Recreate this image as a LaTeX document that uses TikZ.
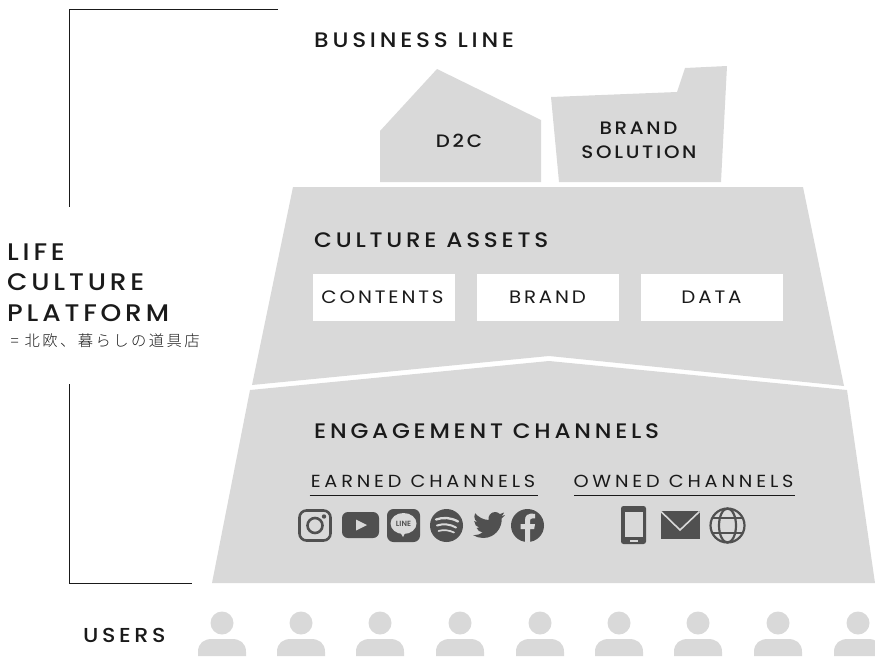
\documentclass[tikz,border=0pt]{standalone}
\usepackage{fontspec}
\setmainfont{Poppins}
\newfontfamily\medf[LetterSpace=18,FakeStretch=1.1]{Poppins Medium}
\newfontfamily\bigf[LetterSpace=16,FakeStretch=1.1]{Poppins Medium}
\newfontfamily\labf[LetterSpace=15,FakeStretch=1.1]{Poppins Medium}
\newfontfamily\regf[LetterSpace=16,FakeStretch=1.1]{Poppins}
\newfontfamily\subf[LetterSpace=22,FakeStretch=1.1]{Poppins}
\newfontfamily\jpf[LetterSpace=16]{Noto Sans CJK JP Light}
\newfontfamily\linef{Poppins SemiBold}
\definecolor{paleg}{HTML}{D9D9D9}
\definecolor{ink}{HTML}{1A1A1A}
\definecolor{iconc}{HTML}{505050}
\tikzset{
  shapefill/.style={fill=paleg,draw=none},
  heading/.style={anchor=base west,inner sep=0pt,text=ink,font=\fontsize{21}{24}\medf},
  usersstyle/.style={anchor=base west,inner sep=0pt,text=ink,font=\fontsize{20.2}{24}\medf},
  label/.style={anchor=base,inner sep=0pt,text=ink,font=\fontsize{18}{22}\labf},
  whitebox/.style={fill=white,draw=none,minimum width=142pt,minimum height=47pt,inner sep=0pt},
  boxtext/.style={anchor=base,inner sep=0pt,text=ink,font=\fontsize{18}{22}\regf},
  sub/.style={anchor=base,inner sep=0pt,text=ink,font=\fontsize{17.5}{22}\subf},
  big/.style={anchor=base west,inner sep=0pt,text=ink,font=\fontsize{24}{28}\bigf},
  rule/.style={draw=ink,line width=0.9pt},
  ic/.style={fill=iconc,draw=none},
}
\newcommand{\person}[1]{%
  \fill[paleg] (#1,623) circle (11.5);
  \fill[paleg] (#1-24,656) -- (#1-24,652) .. controls (#1-24,643) and (#1-18,639) .. (#1-10,639) -- (#1+10,639) .. controls (#1+18,639) and (#1+24,643) .. (#1+24,652) -- (#1+24,656) -- cycle;
}
\begin{document}
\begin{tikzpicture}[x=1pt,y=-1pt]
\useasboundingbox (0,0) rectangle (875,656);
% bracket
\coordinate (bt) at (278,9); \coordinate (bc) at (69,9); \coordinate (bm) at (69,207);
\coordinate (cm) at (69,384); \coordinate (cc) at (69,583); \coordinate (ce) at (192,583);
\draw[rule,line width=0.8pt] (bt) -- (bc) -- (bm);
\draw[rule,line width=0.8pt] (cm) -- (cc) -- (ce);
% shapes
\fill[shapefill] (380,182) -- (380,131) -- (437,69) -- (541,120) -- (541,182) -- cycle;
\fill[shapefill] (551,97) -- (677,92) -- (685,68) -- (727,66) -- (721,182) -- (559,182) -- cycle;
\fill[shapefill] (293,187) -- (803,187) -- (844,386) -- (549,356) -- (252,385) -- cycle;
\fill[shapefill] (250,390) -- (549,361) -- (847,390) -- (875,583) -- (212,583) -- cycle;
% titles
\node[heading] (business) at (314,47) {BUSINESS LINE};
\node[label] (d2c) at (459,147) {D2C};
\node[label] (brandsol1) at (638.5,134) {BRAND};
\node[label] (brandsol2) at (639,158) {SOLUTION};
\node[heading] (culture) at (314,247) {CULTURE ASSETS};
\node[whitebox] (contentsbox) at (384,297.5) {};
\node[whitebox] (brandbox) at (548,297.5) {};
\node[whitebox] (databox) at (712,297.5) {};
\node[boxtext] (contents) at (382.5,303) {CONTENTS};
\node[boxtext] (brand) at (547.5,303) {BRAND};
\node[boxtext] (data) at (711.5,303) {DATA};
\node[heading] (engagement) at (314,438) {ENGAGEMENT CHANNELS};
\node[sub] (earned) at (423,487) {EARNED CHANNELS};
\node[sub] (owned) at (683.5,487) {OWNED CHANNELS};
\draw[rule] (309.5,495) -- (538,495);
\draw[rule] (574,495) -- (795,495);
% left
\node[big] (life) at (7,260) {LIFE};
\node[big] (cult) at (7,290) {CULTURE};
\node[big] (plat) at (7,321) {PLATFORM};
\node[anchor=base west,inner sep=0pt,text=ink,font=\fontsize{15.3}{18}\jpf] (jp) at (10.5,346) {= 北欧、暮らしの道具店};
\node[usersstyle] (users) at (83,642) {USERS};
% people
\foreach \px in {222,301,380,460,540,619,698,778,858} {\person{\px}}
% instagram
\draw[iconc,line width=2.6pt,rounded corners=7pt] (299.5,510.5) rectangle (330.5,540.5);
\draw[iconc,line width=2.6pt] (315,525.5) circle (7.5);
\fill[iconc] (324,516.5) circle (2.2);
% youtube
\fill[ic,rounded corners=6pt] (342,512) rectangle (379,538);
\fill[paleg] (356,519.5) -- (367,525) -- (356,530.5) -- cycle;
% line
\fill[ic,rounded corners=6.5pt] (387,509) rectangle (420,542);
\fill[paleg] (403.5,523.5) ellipse (13 and 10.5);
\fill[paleg] (400,532) -- (405.5,532) -- (403,537) -- cycle;
\node[anchor=center,inner sep=0pt,text=iconc,font=\fontsize{7.5}{8}\linef] (lineword) at (403.5,523.5) {LINE};
% spotify
\fill[iconc] (446.5,525.5) circle (16.5);
\draw[paleg,line width=2.3pt,line cap=round] (436,519.5) .. controls (443,517) and (451,517.5) .. (458,521.5);
\draw[paleg,line width=2pt,line cap=round] (437,525.5) .. controls (443,523.5) and (450,524) .. (456,527.5);
\draw[paleg,line width=1.7pt,line cap=round] (438.5,531) .. controls (443,529.5) and (449,530) .. (454,532.5);
% twitter
\begin{scope}[shift={(473,509)},x=1.333pt,y=-1.333pt]
\fill[iconc] (23.95,4.57) .. controls (23.1,4.95) and (22.1,5.22) .. (21.13,5.345)
 .. controls (22.1,4.76) and (22.9,3.82) .. (23.29,2.62)
 .. controls (22.34,3.18) and (21.29,3.58) .. (20.16,3.81)
 .. controls (19.27,2.85) and (18,2.25) .. (16.58,2.25)
 .. controls (13.4,2.25) and (11.05,5.22) .. (11.78,8.29)
 .. controls (7.69,8.09) and (4.07,6.13) .. (1.64,3.16)
 .. controls (1.21,3.89) and (0.97,4.74) .. (0.97,5.64)
 .. controls (0.97,7.35) and (1.84,8.85) .. (3.16,9.73)
 .. controls (2.35,9.71) and (1.6,9.49) .. (0.93,9.12)
 -- (0.93,9.18)
 .. controls (0.93,11.56) and (2.63,13.55) .. (4.88,14.0)
 .. controls (4.16,14.2) and (3.4,14.23) .. (2.67,14.09)
 .. controls (3.3,16.04) and (5.12,17.46) .. (7.27,17.5)
 .. controls (5.59,18.82) and (3.47,19.6) .. (1.17,19.6)
 .. controls (0.78,19.6) and (0.39,19.58) .. (0,19.54)
 .. controls (2.18,20.93) and (4.77,21.75) .. (7.56,21.75)
 .. controls (16.6,21.75) and (21.55,14.25) .. (21.55,7.77)
 .. controls (21.55,7.56) and (21.55,7.35) .. (21.54,7.14)
 .. controls (22.5,6.45) and (23.33,5.58) .. (24,4.59) -- cycle;
\end{scope}
% facebook
\fill[iconc] (527.5,525.5) circle (16.5);
\fill[paleg] (525,542) -- (525,529) -- (520.5,529) -- (520.5,524) -- (525,524) -- (525,520) .. controls (525,515.5) and (528,513.5) .. (531,513.5) -- (535,514) -- (535,518.3) -- (532.5,518.3) .. controls (530.5,518.3) and (530,519.5) .. (530,521) -- (530,524) -- (535,524) -- (534.2,529) -- (530,529) -- (530,542) -- cycle;
% phone
\fill[ic,rounded corners=2.5pt] (621,506) rectangle (646,544);
\fill[paleg] (624.5,511.5) rectangle (642.5,537);
\fill[paleg] (630,539.5) rectangle (637.5,542);
% envelope
\fill[iconc] (661,511) -- (699.5,511) -- (699.5,539) -- (661,539) -- cycle;
\draw[paleg,line width=1.6pt] (661,511.5) -- (680,530) -- (699.5,511.5);
% globe
\draw[iconc,line width=2.2pt] (727.5,525.5) circle (17);
\draw[iconc,line width=2.2pt] (727.5,525.5) ellipse (8.5 and 17);
\draw[iconc,line width=2.2pt] (713,518) -- (742,518);
\draw[iconc,line width=2.2pt] (713,533) -- (742,533);
\end{tikzpicture}
\end{document}
